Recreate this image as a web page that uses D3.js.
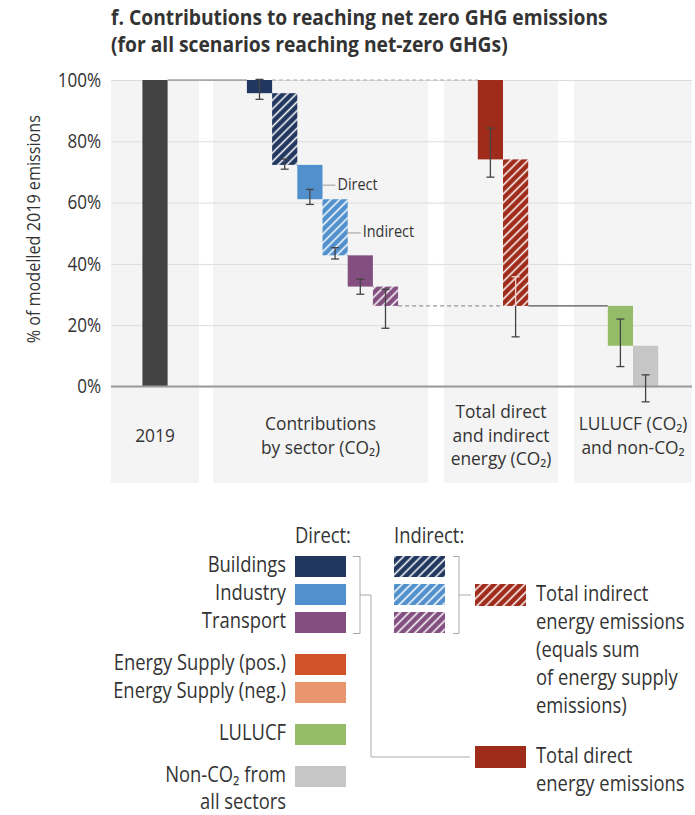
<!DOCTYPE html>
<html>
<head>
<meta charset="utf-8">
<script src="https://cdn.jsdelivr.net/npm/d3@7"></script>
<style>
  html, body { margin: 0; padding: 0; background: #fff; }
  svg { display: block; }
</style>
</head>
<body>
<svg id="chart" width="695" height="815"></svg>
<script>
// ---- data (% of modelled 2019 emissions) ----
const panelLabels = [
  ["2019"],
  ["Contributions", "by sector (CO₂)"],
  ["Total direct", "and indirect", "energy (CO₂)"],
  ["LULUCF (CO₂)", "and non-CO₂"]
];
const barKeys   = ["y2019", "bldDirect", "bldIndirect", "indDirect", "indIndirect", "trnDirect", "trnIndirect", "enDirect", "enIndirect", "lulucf", "nonco2"];
const barPanel  = [0, 1, 1, 1, 1, 1, 1, 2, 2, 3, 3];
const barTop    = [100, 100, 95.7, 72.3, 61.1, 42.8, 32.6, 100, 74.1, 26.3, 13.3];
const barBottom = [0, 95.7, 72.3, 61.1, 42.8, 32.6, 26.3, 74.1, 26.3, 13.3, 0];
const errLow    = [null, 93.7, 70.9, 59.4, 41.6, 30.1, 19.0, 68.3, 16.2, 6.5, -5.0];
const errHigh   = [null, 100.2, 74.2, 64.3, 45.3, 35.0, 31.7, 84.3, 35.8, 22.0, 3.8];
const yTicks    = [0, 20, 40, 60, 80, 100];

// ---- styling ----
const FONT = "'Open Sans', 'Noto Sans', sans-serif";
const SX = 0.875;            // slightly narrowed lettering
const TEXT = "#333";
const C = {
  dark: "#434343",
  buildings: "#223760",
  industry: "#5190cd",
  transport: "#834f80",
  energy: "#9f2b1b",
  esPos: "#d0532a",
  esNeg: "#e9956d",
  lulucf: "#95bd69",
  nonco2: "#c6c6c6"
};
const barStyle = {
  y2019: { color: C.dark, hatch: false },
  bldDirect: { color: C.buildings, hatch: false },
  bldIndirect: { color: C.buildings, hatch: true },
  indDirect: { color: C.industry, hatch: false },
  indIndirect: { color: C.industry, hatch: true },
  trnDirect: { color: C.transport, hatch: false },
  trnIndirect: { color: C.transport, hatch: true },
  enDirect: { color: C.energy, hatch: false },
  enIndirect: { color: C.energy, hatch: true },
  lulucf: { color: C.lulucf, hatch: false },
  nonco2: { color: C.nonco2, hatch: false }
};

const svg = d3.select("#chart").style("font-family", FONT);
const defs = svg.append("defs");

// text helper: positioned by transform so the narrowing keeps anchors in place
function txt(parent, x, y, s, o = {}) {
  const sx = o.sx !== undefined ? o.sx : SX;
  return parent.append("text")
    .attr("transform", `translate(${x},${y})${o.rotate ? ` rotate(${o.rotate})` : ""} scale(${sx},1)`)
    .attr("text-anchor", o.anchor || "start")
    .attr("dominant-baseline", o.baseline || "middle")
    .attr("fill", o.fill || TEXT)
    .style("font-size", (o.size || 16) + "px")
    .style("font-weight", o.weight || null)
    .text(s);
}

// diagonal white hatch for "indirect" bars
function hatchId(color) { return "hatch-" + color.replace("#", ""); }
[C.buildings, C.industry, C.transport, C.energy].forEach(col => {
  const p = defs.append("pattern")
    .attr("id", hatchId(col))
    .attr("patternUnits", "userSpaceOnUse")
    .attr("width", 6.2).attr("height", 6.2)
    .attr("patternTransform", "rotate(45)");
  p.append("rect").attr("width", 6.2).attr("height", 6.2).attr("fill", col);
  p.append("line").attr("x1", 3.1).attr("x2", 3.1).attr("y1", 0).attr("y2", 6.2)
    .attr("stroke", "#fff").attr("stroke-width", 1.5);
});
const fillFor = s => s.hatch ? `url(#${hatchId(s.color)})` : s.color;

// ---- scales ----
const y = d3.scaleLinear().domain([0, 100]).range([386.5, 80]);
const panelX = [[111, 199], [213, 428], [444, 558], [574, 692]];
const panelTop = 80, panelBottom = 483;
const plotLeft = 111, plotRight = 692;
const BW = 25.2;

const bars = barKeys.map((k, i) => ({
  key: k, panel: barPanel[i], top: barTop[i], bottom: barBottom[i],
  lo: errLow[i], hi: errHigh[i], style: barStyle[k]
}));

// one band scale per panel, centred in the panel
const bandScales = panelX.map((px, pi) => {
  const keys = bars.filter(b => b.panel === pi).map(b => b.key);
  const c = (px[0] + px[1]) / 2 + (pi === 1 ? 2 : pi === 2 ? 2 : 0);
  return d3.scaleBand().domain(keys).range([c - keys.length * BW / 2, c + keys.length * BW / 2]).padding(0);
});
const bx = b => bandScales[b.panel](b.key);
const bcx = b => bx(b) + BW / 2;

// ---- panel backgrounds ----
svg.append("g").selectAll("rect").data(panelX).join("rect")
  .attr("x", d => d[0]).attr("width", d => d[1] - d[0])
  .attr("y", panelTop).attr("height", panelBottom - panelTop)
  .attr("fill", "#f4f4f4");

// ---- gridlines + y axis ----
const yAxis = d3.axisLeft(y).tickValues(yTicks).tickFormat(d => d + "%")
  .tickSize(-(plotRight - plotLeft)).tickPadding(10 / SX);
const ga = svg.append("g").attr("transform", `translate(${plotLeft},0)`).call(yAxis);
ga.select(".domain").remove();
ga.selectAll(".tick line").attr("stroke", "#dcdcdc").attr("stroke-width", 1);
ga.selectAll(".tick text").attr("fill", TEXT).attr("transform", `scale(${SX},1)`)
  .style("font-size", "19.5px").style("font-family", FONT);

txt(svg, 35, (y(0) + y(100)) / 2 - 4, "% of modelled 2019 emissions",
  { rotate: -90, anchor: "middle", size: 18.5 });

// ---- connectors ----
const byKey = k => bars.find(b => b.key === k);
const conn = svg.append("g");
function hline(v, x1, x2, dashed, col) {
  conn.append("line").attr("x1", x1).attr("x2", x2).attr("y1", y(v)).attr("y2", y(v))
    .attr("stroke", col).attr("stroke-width", 1.2)
    .attr("stroke-dasharray", dashed ? "4,3" : null);
}
hline(byKey("y2019").top, bx(byKey("y2019")) + BW, bx(byKey("bldDirect")), false, "#777");
hline(byKey("bldDirect").top, bx(byKey("bldDirect")) + BW, bx(byKey("enDirect")), true, "#aaa");
hline(byKey("trnIndirect").bottom, bx(byKey("trnIndirect")) + BW, bx(byKey("enIndirect")), true, "#999");
hline(byKey("enIndirect").bottom, bx(byKey("enIndirect")) + BW, bx(byKey("lulucf")), false, "#555");

// ---- bars ----
svg.append("g").selectAll("rect").data(bars).join("rect")
  .attr("x", bx).attr("width", BW)
  .attr("y", d => y(d.top)).attr("height", d => y(d.bottom) - y(d.top))
  .attr("fill", d => fillFor(d.style));

// ---- zero line ----
svg.append("line").attr("x1", plotLeft).attr("x2", plotRight).attr("y1", y(0)).attr("y2", y(0))
  .attr("stroke", "#9a9a9a").attr("stroke-width", 2);

// ---- error bars ----
const eg = svg.append("g").attr("stroke-width", 1.3);
function errBar(cx, lo, hi, col) {
  eg.append("line").attr("x1", cx).attr("x2", cx).attr("y1", y(lo)).attr("y2", y(hi)).attr("stroke", col);
  eg.append("line").attr("x1", cx - 4).attr("x2", cx + 4).attr("y1", y(lo)).attr("y2", y(lo)).attr("stroke", col);
  eg.append("line").attr("x1", cx - 4).attr("x2", cx + 4).attr("y1", y(hi)).attr("y2", y(hi)).attr("stroke", col);
}
bars.filter(b => b.lo !== null).forEach(b => {
  if (b.key === "enIndirect") {
    // the part inside the dark hatched bar is drawn light
    const cx = bcx(b);
    eg.append("line").attr("x1", cx).attr("x2", cx).attr("y1", y(b.lo)).attr("y2", y(b.bottom)).attr("stroke", "#444");
    eg.append("line").attr("x1", cx - 4).attr("x2", cx + 4).attr("y1", y(b.lo)).attr("y2", y(b.lo)).attr("stroke", "#444");
    eg.append("line").attr("x1", cx).attr("x2", cx).attr("y1", y(b.bottom)).attr("y2", y(b.hi)).attr("stroke", "#f1d3cc");
    eg.append("line").attr("x1", cx - 4).attr("x2", cx + 4).attr("y1", y(b.hi)).attr("y2", y(b.hi)).attr("stroke", "#f1d3cc");
  } else {
    errBar(bcx(b), b.lo, b.hi, "#444");
  }
});

// ---- Direct / Indirect annotations ----
const ann = svg.append("g");
[["indDirect", 65.7, "Direct"], ["indIndirect", 50.1, "Indirect"]].forEach(([k, v, label]) => {
  const b = byKey(k);
  const x0 = bx(b) + BW;
  ann.append("line").attr("x1", x0).attr("x2", x0 + 13).attr("y1", y(v)).attr("y2", y(v))
    .attr("stroke", "#999").attr("stroke-width", 1);
  txt(ann, x0 + 15, y(v), label, { size: 16.5 });
});

// ---- panel labels ----
const pl = svg.append("g");
const labelCenterY = 437;
panelLabels.forEach((lines, i) => {
  const cx = (panelX[i][0] + panelX[i][1]) / 2;
  const lh = 23.5;
  lines.forEach((t, j) => {
    txt(pl, cx, labelCenterY + (j - (lines.length - 1) / 2) * lh, t, { anchor: "middle", size: 18.3, sx: 0.95 });
  });
});

// ---- title ----
const title = svg.append("g");
txt(title, 111, 24.5, "f. Contributions to reaching net zero GHG emissions", { size: 20.5, sx: 0.94, weight: "bold", baseline: "auto" });
txt(title, 111, 51.5, "(for all scenarios reaching net-zero GHGs)", { size: 20.5, sx: 0.94, weight: "bold", baseline: "auto" });

// ---- legend ----
const lg = svg.append("g");
const LS = 21;
const SW = 51, SH = 21;
const directItems = [
  ["Buildings", C.buildings, 556],
  ["Industry", C.industry, 584],
  ["Transport", C.transport, 612],
  ["Energy Supply (pos.)", C.esPos, 654],
  ["Energy Supply (neg.)", C.esNeg, 682],
  ["LULUCF", C.lulucf, 724],
  ["Non-CO₂ from|all sectors", C.nonco2, 766]
];
txt(lg, 295, 537, "Direct:", { size: LS });
txt(lg, 394, 537, "Indirect:", { size: LS });
directItems.forEach(([label, col, yy], i) => {
  lg.append("rect").attr("x", 295).attr("y", yy).attr("width", SW).attr("height", SH).attr("fill", col);
  label.split("|").forEach((t, j) => {
    txt(lg, 286, yy + SH / 2 + j * 27, t, { anchor: "end", size: LS });
  });
  if (i < 3) {
    lg.append("rect").attr("x", 394).attr("y", yy).attr("width", SW).attr("height", SH)
      .attr("fill", `url(#${hatchId(col)})`);
  }
});
// brackets and leaders
const bk = svg.append("g").attr("fill", "none").attr("stroke", "#aaa").attr("stroke-width", 1);
bk.append("path").attr("d", "M353,556.5H360V633.5H353");
bk.append("path").attr("d", "M360,595H371V757H470");
bk.append("path").attr("d", "M453,556.5H459V633.5H453");
bk.append("path").attr("d", "M459,595H471");
// energy totals
lg.append("rect").attr("x", 475).attr("y", 584).attr("width", SW).attr("height", SH + 1).attr("fill", `url(#${hatchId(C.energy)})`);
lg.append("rect").attr("x", 475).attr("y", 746).attr("width", SW).attr("height", SH + 1).attr("fill", C.energy);
["Total indirect", "energy emissions", "(equals sum", "of energy supply", "emissions)"].forEach((t, j) => {
  txt(lg, 536, 595 + j * 28, t, { size: LS });
});
["Total direct", "energy emissions"].forEach((t, j) => {
  txt(lg, 536, 757 + j * 28, t, { size: LS });
});
</script>
</body>
</html>
